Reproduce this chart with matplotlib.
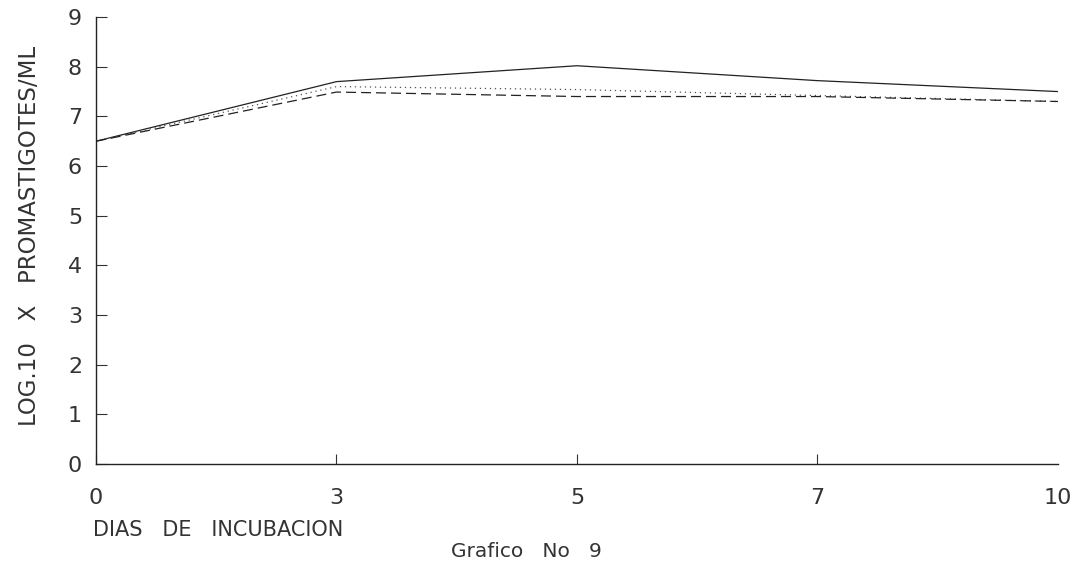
import numpy as np
import matplotlib
matplotlib.use('Agg')
import matplotlib.pyplot as plt

# dias de incubacion (categorias equiespaciadas)
dias = ['0', '3', '5', '7', '10']
serie_solida = [6.5, 7.7, 8.02, 7.72, 7.5]
serie_puntos = [6.5, 7.6, 7.54, 7.42, 7.3]
serie_guiones = [6.5, 7.49, 7.4, 7.4, 7.3]
yticks = [0, 1, 2, 3, 4, 5, 6, 7, 8, 9]

plt.rcParams['font.family'] = ['DejaVu Sans']

fig = plt.figure(figsize=(10.81, 5.69), dpi=100)
ax = fig.add_axes([0.0888, 0.1845, 0.8899, 0.7855])

x = np.arange(len(dias))
ax.plot(x, serie_solida, color='#222222', linewidth=0.9)
ax.plot(x, serie_puntos, color='#555555', linewidth=0.9, linestyle=(0, (1, 3)))
ax.plot(x, serie_guiones, color='#222222', linewidth=0.9, linestyle=(0, (8, 4)))

ax.set_xlim(0, len(dias) - 1)
ax.set_ylim(0, 9)
ax.set_xticks(x)
ax.set_xticklabels(dias)
ax.set_yticks(yticks)

for s in ['top', 'right']:
    ax.spines[s].set_visible(False)
for s in ['left', 'bottom']:
    ax.spines[s].set_color('#222222')
    ax.spines[s].set_linewidth(1.0)

ax.tick_params(axis='y', direction='in', length=8, width=0.8, pad=10,
               labelsize=16, colors='#333333')
ax.tick_params(axis='x', direction='in', length=7, width=0.8, pad=17,
               labelsize=16, colors='#333333')
# el ultimo tick x no lleva marca
ax.xaxis.get_major_ticks()[-1].tick1line.set_visible(False)

fig.text(0.027, 0.585, 'LOG.10   X   PROMASTIGOTES/ML', rotation=90,
         ha='center', va='center', fontsize=16.5, color='#333333')
fig.text(0.086, 0.068, 'DIAS   DE   INCUBACION', ha='left', va='center',
         fontsize=15, color='#333333')
fig.text(0.487, 0.03, 'Grafico   No   9', ha='center', va='center',
         fontsize=14.5, color='#333333')

fig.savefig('out.png', dpi=100)
